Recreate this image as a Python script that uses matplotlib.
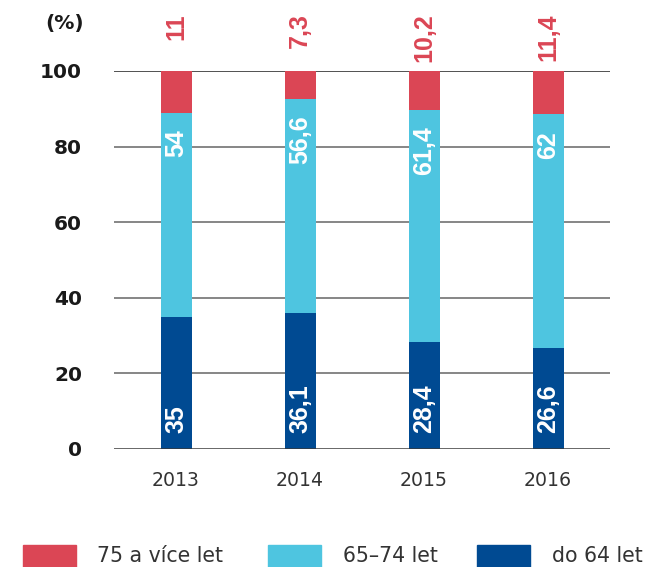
import matplotlib
matplotlib.use("Agg")
import matplotlib.pyplot as plt
from matplotlib.patches import Rectangle

years = ["2013", "2014", "2015", "2016"]
do64 = [35, 36.1, 28.4, 26.6]
y65_74 = [54, 56.6, 61.4, 62]
y75 = [11, 7.3, 10.2, 11.4]
series_names = ["75 a více let", "65–74 let", "do 64 let"]
yticks = [0, 20, 40, 60, 80, 100]

c_red = "#DB4655"
c_cyan = "#4EC5E0"
c_blue = "#004A92"

def fmt(v):
    return ("%g" % v).replace(".", ",")

plt.rcParams['font.family'] = ['DejaVu Sans']
fig = plt.figure(figsize=(6.49, 5.67), dpi=100)
ax = fig.add_axes([114/649, 1-449/567, 496/649, 378/567])

x = list(range(len(years)))
w = 0.25
b1 = ax.bar(x, do64, width=w, color=c_blue, zorder=3)
b2 = ax.bar(x, y65_74, width=w, bottom=do64, color=c_cyan, zorder=3)
bottom3 = [a + b for a, b in zip(do64, y65_74)]
b3 = ax.bar(x, y75, width=w, bottom=bottom3, color=c_red, zorder=3)

lab_font = dict(family=['Liberation Sans', 'DejaVu Sans'], fontsize=18, fontweight="bold")
for i in x:
    ax.text(i, 4.2, fmt(do64[i]), rotation=90, ha="center", va="bottom",
            color="white", zorder=4, **lab_font)
    ax.text(i, bottom3[i] - 4.5, fmt(y65_74[i]), rotation=90, ha="center", va="top",
            color="white", zorder=4, **lab_font)
    ax.text(i, 115.2, fmt(y75[i]), rotation=90, ha="center", va="top",
            color=c_red, clip_on=False, zorder=4, **lab_font)

ax.set_xlim(-0.5, len(years) - 0.5)
ax.set_ylim(0, 100)
ax.set_yticks(yticks)
ax.set_yticklabels([str(t) for t in yticks], fontsize=14.5, fontweight="semibold", color="#1a1a1a")
ax.set_xticks(x)
ax.set_xticklabels(years, fontsize=13.6, color="#333333")
ax.tick_params(axis="y", length=0, pad=23)
ax.tick_params(axis="x", length=0, pad=16)
for s in ax.spines.values():
    s.set_visible(False)
for t in yticks[1:]:
    ax.axhline(t, color="#222222" if t == 100 else "#666666", lw=1.1, zorder=1)
ax.axhline(0, color="#3a3a3a", lw=1.8, zorder=5)

fig.text(65/649, 1-23/567, "(%)", ha="center", va="center", fontsize=14.5,
         fontweight="semibold", color="#1a1a1a")

# legend
handles = [b3.patches[0], b2.patches[0], b1.patches[0]]
lx = [23, 268, 477]
tx = [97, 343, 552]
for h, px, tpx, name in zip(handles, lx, tx, series_names):
    fig.add_artist(Rectangle((px/649, 1-569/567), 53/649, 24/567,
                             transform=fig.transFigure, color=h.get_facecolor()))
    fig.text(tpx/649, 1-556/567, name, ha="left", va="center", fontsize=14.8, color="#333333")

fig.savefig("out.png", dpi=100)
